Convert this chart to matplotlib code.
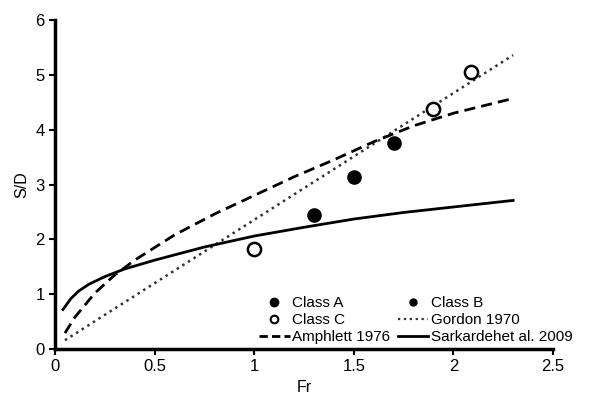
import matplotlib.pyplot as plt
from matplotlib.lines import Line2D

plt.rcParams['font.family'] = ['Liberation Sans', 'DejaVu Sans']

# measured points
frA = [1.30, 1.50, 1.70]
sdA = [2.44, 3.14, 3.76]
frC = [1.00, 1.90, 2.09]
sdC = [1.82, 4.37, 5.06]

# Gordon 1970 (straight line)
fr_gordon = [0.05, 2.30]
sd_gordon = [0.16, 5.36]

# Amphlett 1976
fr_amph = [0.05, 0.1, 0.2, 0.3, 0.4, 0.6, 0.8, 1.0, 1.2, 1.4, 1.6, 1.8, 2.0, 2.3]
sd_amph = [0.29, 0.58, 1.02, 1.35, 1.62, 2.08, 2.46, 2.80, 3.14, 3.45, 3.78, 4.07, 4.30, 4.57]

# Sarkardeh et al. 2009
fr_sark = [0.04, 0.08, 0.12, 0.17, 0.25, 0.35, 0.5, 0.75, 1.0, 1.25, 1.5, 1.75, 2.0, 2.3]
sd_sark = [0.72, 0.92, 1.06, 1.18, 1.32, 1.46, 1.62, 1.86, 2.06, 2.22, 2.37, 2.49, 2.59, 2.71]

fig = plt.figure(figsize=(5.9, 3.94), dpi=100)
ax = fig.add_axes([0.0932, 0.1142, 0.8441, 0.8350])

ax.plot(fr_gordon, sd_gordon, ls=':', color='#333333', lw=1.8)
ax.plot(fr_amph, sd_amph, ls=(0, (4, 2.2)), color='black', lw=2.0)
ax.plot(fr_sark, sd_sark, ls='-', color='black', lw=2.0)
ax.plot(frA, sdA, 'o', color='black', ms=9.5, zorder=5)
ax.plot(frC, sdC, 'o', mfc='white', mec='black', mew=1.8, ms=9.5, zorder=5)

ax.set_xlim(0, 2.5)
ax.set_ylim(0, 6)
ax.set_xticks([0, 0.5, 1, 1.5, 2, 2.5])
ax.set_xticklabels(['0', '0.5', '1', '1.5', '2', '2.5'])
ax.set_yticks([0, 1, 2, 3, 4, 5, 6])
for s in ['top', 'right']:
    ax.spines[s].set_visible(False)
for s in ['left', 'bottom']:
    ax.spines[s].set_linewidth(2.5)
ax.tick_params(width=1.5, length=4, labelsize=12)
ax.set_xlabel('Fr', fontsize=11.5)
ax.set_ylabel('S/D', fontsize=11.5)

handles = [
    Line2D([], [], ls='', marker='o', color='black', ms=6),
    Line2D([], [], ls='', marker='o', mfc='white', mec='black', mew=1.5, ms=5.5),
    Line2D([], [], ls=(0, (3, 1.5)), color='black', lw=2.0),
    Line2D([], [], ls='', marker='o', color='black', ms=5),
    Line2D([], [], ls=':', color='#333333', lw=1.6),
    Line2D([], [], ls='-', color='black', lw=2.0),
]
labels = ['Class A', 'Class C', 'Amphlett 1976', 'Class B', 'Gordon 1970', 'Sarkardehet al. 2009']
ax.legend(handles, labels, ncol=2, frameon=False, fontsize=11, loc='lower left',
          bbox_to_anchor=(0.41, 0.015), handlelength=2.0, handletextpad=0.15,
          columnspacing=0.5, labelspacing=0.2, borderpad=0, borderaxespad=0)

fig.savefig('out.png')
